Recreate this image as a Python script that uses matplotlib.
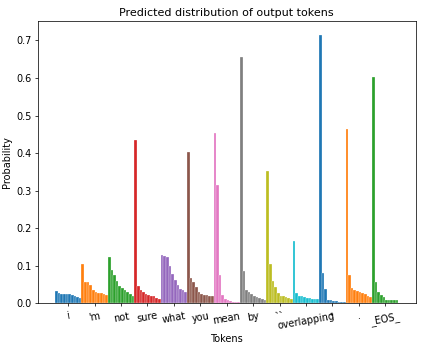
import numpy as np
import matplotlib
matplotlib.use("Agg")
import matplotlib.pyplot as plt

#### data
tokens = ["i", "'m", "not", "sure", "what", "you", "mean", "by", "``",
          "overlapping", "''", ".", "_EOS_"]

p_i = [0.032, 0.026, 0.025, 0.025, 0.024, 0.023, 0.022, 0.020, 0.017, 0.013]
p_m = [0.104, 0.056, 0.055, 0.048, 0.036, 0.030, 0.028, 0.027, 0.025, 0.022]
p_not = [0.122, 0.088, 0.075, 0.060, 0.046, 0.040, 0.035, 0.030, 0.024, 0.018]
p_sure = [0.435, 0.045, 0.034, 0.029, 0.025, 0.022, 0.020, 0.018, 0.014, 0.010]
p_what = [0.128, 0.125, 0.124, 0.100, 0.078, 0.062, 0.048, 0.038, 0.034, 0.030]
p_you = [0.402, 0.066, 0.057, 0.044, 0.030, 0.023, 0.022, 0.021, 0.020, 0.018]
p_mean = [0.454, 0.314, 0.075, 0.022, 0.012, 0.008, 0.006, 0.004, 0.003, 0.002]
p_by = [0.655, 0.086, 0.035, 0.030, 0.025, 0.020, 0.016, 0.013, 0.011, 0.009]
p_quote_open = [0.352, 0.105, 0.060, 0.042, 0.028, 0.020, 0.018, 0.016, 0.014, 0.012]
p_overlapping = [0.166, 0.026, 0.020, 0.018, 0.015, 0.013, 0.013, 0.012, 0.012, 0.011]
p_quote_close = [0.715, 0.079, 0.038, 0.008, 0.007, 0.006, 0.005, 0.004, 0.004, 0.003]
p_dot = [0.465, 0.074, 0.040, 0.036, 0.033, 0.030, 0.027, 0.023, 0.019, 0.015]
p_eos = [0.602, 0.057, 0.030, 0.021, 0.015, 0.009, 0.008, 0.008, 0.008, 0.008]

probs = [p_i, p_m, p_not, p_sure, p_what, p_you, p_mean, p_by, p_quote_open,
         p_overlapping, p_quote_close, p_dot, p_eos]

k = 10  # bars per token

plt.rcParams['font.size'] = 10.6
plt.rcParams['axes.titlesize'] = 12.2

fig = plt.figure(figsize=(421 / 66, 346 / 66), dpi=66)
ax = fig.add_axes([0.090, 0.124, 0.897, 0.814])

for i, p in enumerate(probs):
    x = np.arange(i * k, i * k + len(p))
    ax.bar(x, p, width=1.0, edgecolor='white', linewidth=0.3)

ax.set_xticks(np.arange(len(tokens)) * k + (k - 1) / 2)
ax.set_xticklabels(tokens, rotation=10)
ax.tick_params(axis='x', pad=5)
ax.set_xlabel('Tokens', labelpad=3)
ax.set_ylabel('Probability')
ax.set_title('Predicted distribution of output tokens')

fig.savefig('out.png', dpi=66)
